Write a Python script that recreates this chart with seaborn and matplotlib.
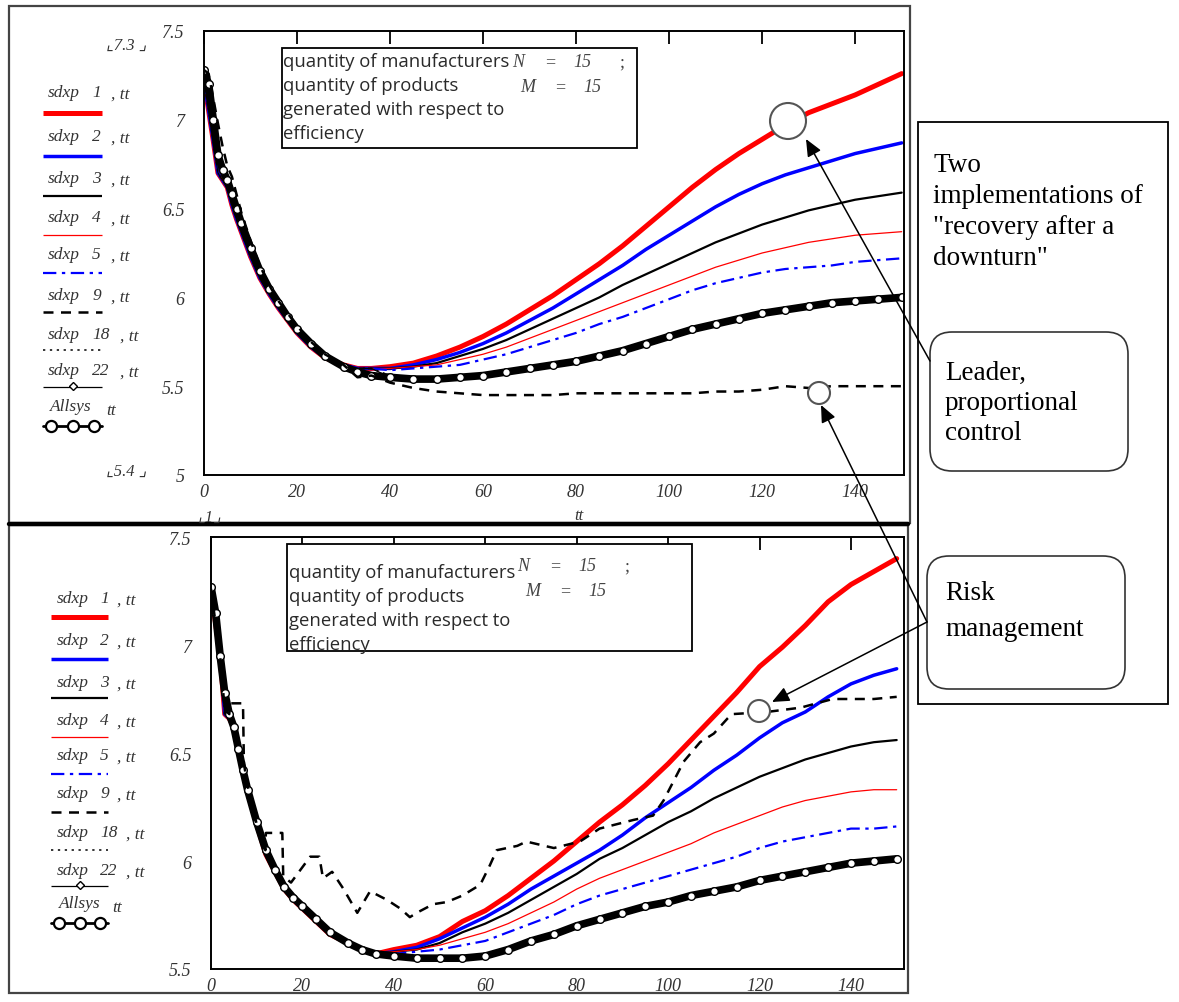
import matplotlib
matplotlib.use("Agg")
import matplotlib.pyplot as plt
import seaborn as sns
from matplotlib.patches import Rectangle, FancyBboxPatch, Circle, FancyArrowPatch

sns.set_style("white")
plt.rcParams['font.family'] = ['Liberation Serif', 'DejaVu Sans']

# ---------------- data ----------------
T_EARLY = [0, 1, 2, 3, 4, 5, 6, 7, 8, 10, 12, 14, 16, 18, 20, 23, 26, 30, 33, 36]
T_LATE = [40, 45, 50, 55, 60, 65, 70, 75, 80, 85, 90, 95, 100, 105, 110, 115,
          120, 125, 130, 135, 140, 145, 150]
T = T_EARLY + T_LATE

# --- top panel ---
top_decay = [7.22, 7.05, 6.88, 6.70, 6.66, 6.62, 6.52, 6.44, 6.37, 6.23, 6.11, 6.02,
             5.94, 5.87, 5.80, 5.72, 5.66, 5.62, 5.60, 5.60]
top_sdxp1 = [5.61, 5.63, 5.67, 5.72, 5.78, 5.85, 5.93, 6.01, 6.10, 6.19, 6.29, 6.40,
             6.51, 6.62, 6.72, 6.81, 6.89, 6.97, 7.04, 7.09, 7.14, 7.20, 7.26]
top_sdxp2 = [5.60, 5.62, 5.65, 5.69, 5.74, 5.80, 5.87, 5.94, 6.02, 6.10, 6.18, 6.27,
             6.35, 6.43, 6.51, 6.58, 6.64, 6.69, 6.73, 6.77, 6.81, 6.84, 6.87]
top_sdxp3 = [5.60, 5.61, 5.63, 5.67, 5.71, 5.76, 5.82, 5.88, 5.94, 6.00, 6.07, 6.13,
             6.19, 6.25, 6.31, 6.36, 6.41, 6.45, 6.49, 6.52, 6.55, 6.57, 6.59]
top_sdxp4 = [5.60, 5.61, 5.62, 5.65, 5.68, 5.72, 5.77, 5.82, 5.87, 5.92, 5.97, 6.02,
             6.07, 6.12, 6.17, 6.21, 6.25, 6.28, 6.31, 6.33, 6.35, 6.36, 6.37]
top_sdxp5 = [5.59, 5.60, 5.61, 5.62, 5.65, 5.68, 5.72, 5.76, 5.80, 5.85, 5.89, 5.94,
             5.99, 6.04, 6.08, 6.11, 6.14, 6.16, 6.17, 6.18, 6.20, 6.21, 6.22]
top_sdxp9 = [7.28, 7.26, 7.12, 6.98, 6.85, 6.74, 6.68, 6.58, 6.48, 6.32, 6.18, 6.07,
             5.98, 5.91, 5.84, 5.75, 5.68, 5.62, 5.55, 5.56,
             5.52, 5.49, 5.47, 5.46, 5.45, 5.45, 5.45, 5.45, 5.46, 5.46, 5.46, 5.46,
             5.46, 5.46, 5.47, 5.47, 5.48, 5.50, 5.49, 5.50, 5.50, 5.50, 5.50]
top_sdxp18 = [5.56, 5.55, 5.55, 5.56, 5.57, 5.59, 5.61, 5.63, 5.65, 5.68, 5.71, 5.75,
              5.79, 5.82, 5.85, 5.88, 5.91, 5.93, 5.95, 5.97, 5.98, 5.99, 6.00]
top_sdxp22 = [5.55, 5.53, 5.53, 5.54, 5.55, 5.57, 5.59, 5.61, 5.63, 5.66, 5.69, 5.73,
              5.77, 5.81, 5.84, 5.87, 5.90, 5.92, 5.94, 5.96, 5.97, 5.98, 5.99]
top_allsys = [7.28, 7.20, 7.00, 6.80, 6.72, 6.66, 6.58, 6.50, 6.42, 6.28, 6.15, 6.05,
              5.97, 5.89, 5.82, 5.74, 5.67, 5.61, 5.58, 5.56,
              5.55, 5.54, 5.54, 5.55, 5.56, 5.58, 5.60, 5.62, 5.64, 5.67, 5.70, 5.74,
              5.78, 5.82, 5.85, 5.88, 5.91, 5.93, 5.95, 5.97, 5.98, 5.99, 6.00]

# --- bottom panel ---
bot_decay = [7.26, 7.10, 6.95, 6.68, 6.66, 6.62, 6.52, 6.42, 6.32, 6.17, 6.03, 5.95,
             5.87, 5.82, 5.78, 5.72, 5.66, 5.62, 5.59, 5.57]
bot_sdxp1 = [5.59, 5.61, 5.65, 5.72, 5.77, 5.84, 5.92, 6.00, 6.09, 6.18, 6.26, 6.35,
             6.45, 6.56, 6.67, 6.78, 6.90, 6.99, 7.09, 7.20, 7.28, 7.34, 7.40]
bot_sdxp2 = [5.58, 5.60, 5.64, 5.69, 5.74, 5.80, 5.87, 5.93, 5.99, 6.05, 6.12, 6.20,
             6.27, 6.34, 6.42, 6.49, 6.57, 6.64, 6.69, 6.76, 6.82, 6.86, 6.89]
bot_sdxp3 = [5.58, 5.59, 5.62, 5.67, 5.71, 5.76, 5.82, 5.88, 5.94, 6.01, 6.06, 6.12,
             6.18, 6.23, 6.29, 6.34, 6.39, 6.43, 6.47, 6.50, 6.53, 6.55, 6.56]
bot_sdxp4 = [5.58, 5.59, 5.61, 5.64, 5.67, 5.71, 5.76, 5.81, 5.87, 5.92, 5.96, 6.00,
             6.04, 6.08, 6.13, 6.17, 6.21, 6.25, 6.28, 6.30, 6.32, 6.33, 6.33]
bot_sdxp5 = [5.57, 5.58, 5.59, 5.61, 5.63, 5.67, 5.71, 5.75, 5.80, 5.84, 5.87, 5.90,
             5.93, 5.96, 5.99, 6.02, 6.06, 6.09, 6.11, 6.13, 6.15, 6.15, 6.16]
bot_sdxp18 = [5.57, 5.56, 5.56, 5.56, 5.57, 5.60, 5.64, 5.67, 5.71, 5.74, 5.77, 5.80,
              5.82, 5.85, 5.87, 5.89, 5.92, 5.94, 5.96, 5.98, 5.99, 6.00, 6.01]
bot_sdxp22 = [5.56, 5.55, 5.54, 5.54, 5.55, 5.58, 5.62, 5.65, 5.69, 5.72, 5.75, 5.78,
              5.80, 5.83, 5.85, 5.87, 5.90, 5.92, 5.94, 5.96, 5.98, 5.99, 6.00]
bot_allsys = [7.27, 7.15, 6.95, 6.78, 6.68, 6.62, 6.52, 6.42, 6.33, 6.18, 6.05, 5.96,
              5.88, 5.83, 5.79, 5.73, 5.67, 5.62, 5.59, 5.57,
              5.56, 5.55, 5.55, 5.55, 5.56, 5.59, 5.63, 5.66, 5.70, 5.73, 5.76, 5.79,
              5.81, 5.84, 5.86, 5.88, 5.91, 5.93, 5.95, 5.97, 5.99, 6.00, 6.01]
T_BOT9 = [0, 1, 2, 3, 4, 4.2, 7, 7.2, 8, 10, 11.9, 12, 15.6, 15.8, 17.5, 21.7, 23.7,
          24.5, 26.5, 29, 32, 34.8, 38.5, 41.4, 43.5, 45, 48.6, 51.6, 55, 58.9, 61,
          62.5, 67, 69, 75, 80.7, 85, 92.4, 96.7, 99, 103.4, 107, 110, 113, 114,
          121.6, 129, 136, 145, 150]
bot_sdxp9 = [7.26, 7.10, 6.95, 6.70, 6.68, 6.73, 6.73, 6.45, 6.35, 6.17, 6.05, 6.13,
             6.13, 5.93, 5.90, 6.02, 6.02, 5.92, 5.95, 5.87, 5.76, 5.86, 5.82, 5.78,
             5.74, 5.76, 5.80, 5.81, 5.84, 5.89, 5.98, 6.05, 6.07, 6.09, 6.06, 6.09,
             6.15, 6.19, 6.21, 6.28, 6.46, 6.55, 6.59, 6.66, 6.68, 6.69, 6.71, 6.75,
             6.75, 6.76]

X_TICKS = [0, 20, 40, 60, 80, 100, 120, 140]
TOP_Y_TICKS = [5, 5.5, 6, 6.5, 7, 7.5]
TOP_Y_LABELS = ["5", "5.5", "6", "6.5", "7", "7.5"]
BOT_Y_TICKS = [5.5, 6, 6.5, 7, 7.5]
BOT_Y_LABELS = ["5.5", "6", "6.5", "7", "7.5"]
LEGEND_NAMES = ["1", "2", "3", "4", "5", "9", "18", "22"]

# ---------------- styles ----------------
STY = {
    "1": dict(color="#ff0000", lw=3.6),
    "2": dict(color="#0000ff", lw=2.5),
    "3": dict(color="black", lw=1.6),
    "4": dict(color="#ff0000", lw=0.9),
    "5": dict(color="#0000ff", lw=1.6, dashes=(6, 2.5, 1.5, 2.5)),
    "9": dict(color="black", lw=1.8, dashes=(4, 3)),
    "18": dict(color="black", lw=1.1, dashes=(1.5, 3)),
    "22": dict(color="black", lw=0.9),
}

W, H = 1179, 1003
fig = plt.figure(figsize=(W / 100, H / 100), dpi=100)


def rect(l, t, r, b):
    return [l / W, 1 - b / H, (r - l) / W, (b - t) / H]


def draw(ax, x, y, key, **extra):
    st = dict(STY[key])
    dashes = st.pop("dashes", None)
    sns.lineplot(x=x, y=y, ax=ax, estimator=None, sort=False, legend=False,
                 color=st["color"], linewidth=st["lw"], **extra)
    if dashes is not None:
        ax.lines[-1].set_dashes(dashes)


def panel(ax, decay, s1, s2, s3, s4, s5, s9, t9, s18, s22, alls, xmax, ymin, yt, yl):
    draw(ax, T, decay + s1, "1")
    draw(ax, T, decay + s2, "2")
    draw(ax, T, decay + s3, "3")
    draw(ax, T, decay + s4, "4")
    draw(ax, T, decay + s5, "5")
    draw(ax, T, decay + s18, "18")
    draw(ax, T, decay + s22, "22")
    sns.lineplot(x=T, y=alls, ax=ax, estimator=None, sort=False, legend=False,
                 color="black", linewidth=5.5, marker="o", markersize=5.5,
                 markerfacecolor="white", markeredgecolor="black",
                 markeredgewidth=1.0)
    draw(ax, t9, s9, "9")
    ax.set_xlim(0, xmax)
    ax.set_ylim(ymin, 7.5)
    ax.set_xticks(X_TICKS)
    ax.set_xticklabels([str(v) for v in X_TICKS])
    ax.set_yticks(yt)
    ax.set_yticklabels(yl)
    ax.set_xlabel("")
    ax.set_ylabel("")
    ax.tick_params(axis="both", direction="in", length=9, width=1.3,
                   top=True, right=False, colors="black", labelcolor="#333333",
                   labelsize=13)
    ax.tick_params(axis="x", pad=6)
    ax.tick_params(axis="y", pad=14)
    for lab in ax.get_xticklabels() + ax.get_yticklabels():
        lab.set_fontstyle("italic")
    for sp in ax.spines.values():
        sp.set_color("black")
        sp.set_linewidth(1.4)


ax1 = fig.add_axes(rect(204, 32, 904, 476))
panel(ax1, top_decay, top_sdxp1, top_sdxp2, top_sdxp3, top_sdxp4, top_sdxp5,
      top_sdxp9, T, top_sdxp18, top_sdxp22, top_allsys, 150.5, 5, TOP_Y_TICKS, TOP_Y_LABELS)

ax2 = fig.add_axes(rect(211, 538, 904, 970))
panel(ax2, bot_decay, bot_sdxp1, bot_sdxp2, bot_sdxp3, bot_sdxp4, bot_sdxp5,
      bot_sdxp9, T_BOT9, bot_sdxp18, bot_sdxp22, bot_allsys, 151.6, 5.5, BOT_Y_TICKS, BOT_Y_LABELS)

# ---------------- overlay for frames, legends, annotations ----------------
ov = fig.add_axes([0, 0, 1, 1])
ov.set_xlim(0, W)
ov.set_ylim(H, 0)
ov.axis("off")
ov.set_zorder(10)

# panel frames
ov.add_patch(Rectangle((9, 7), 901, 517, fill=False, ec="#444444", lw=1.6))
ov.add_patch(Rectangle((9, 526), 899, 468, fill=False, ec="#444444", lw=1.6))
ov.plot([9, 908], [525, 525], color="black", lw=3.2)

# mathcad range markers
ov.text(106, 50, "\u231e7.3 \u231f", fontsize=12, style="italic", color="#333333")
ov.text(106, 476, "\u231e5.4 \u231f", fontsize=12, style="italic", color="#333333")
ov.text(198, 522, "\u231e1\u231f", fontsize=12, style="italic", color="#333333")
ov.text(574, 520, "tt", fontsize=12, style="italic", color="#333333")


def legend(x_lab, x_num, x_tail, xl0, xl1, bases, liney):
    for i, name in enumerate(LEGEND_NAMES):
        b = bases[i]
        ov.text(x_lab, b, "sdxp", fontsize=12.5, style="italic", color="#333333", va="baseline")
        ov.text(x_num, b, name, fontsize=12.5, style="italic", color="#333333", va="baseline")
        xt = x_tail if len(name) == 1 else x_tail + 9
        ov.text(xt, b + 2, ", tt", fontsize=12.5, style="italic", color="#333333", va="baseline")
        st = dict(STY[name])
        dashes = st.pop("dashes", None)
        ln, = ov.plot([xl0, xl1], [liney[i], liney[i]], color=st["color"], lw=st["lw"],
                      solid_capstyle="butt")
        if dashes is not None:
            ln.set_dashes(dashes)
        if name == "22":
            ov.plot([(xl0 + xl1) / 2], [liney[i] - 1], marker="D", ms=4.5, mfc="white",
                    mec="black", mew=1.0)
    b = bases[-1]
    ov.text(x_lab + 2, b, "Allsys", fontsize=12.5, style="italic", color="#333333", va="baseline")
    ov.text(x_tail - 5, b + 4, "tt", fontsize=12.5, style="italic", color="#333333", va="baseline")
    ov.plot([xl0, xl1], [liney[-1], liney[-1]], color="black", lw=2.0)
    ov.plot([xl0 + 8, (xl0 + xl1) / 2, xl1 - 8], [liney[-1]] * 3, ls="none", marker="o",
            ms=8, mfc="white", mec="black", mew=1.6)


legend(48, 92, 111, 43, 102,
       [97, 141, 183, 222, 259, 300, 339, 375, 411],
       [114, 157, 197, 236, 274, 313, 351, 388, 427])
legend(57, 100, 117, 51, 108,
       [603, 645, 687, 725, 760, 798, 837, 875, 908],
       [618, 660, 699, 738, 775, 813, 851, 887, 924])


def info_box(x0, y0, x1, y1, tx, bases, nx, nb):
    ov.add_patch(Rectangle((x0, y0), x1 - x0, y1 - y0, fc="white", ec="black", lw=1.3))
    lines = ["quantity of manufacturers", "quantity of products",
             "generated with respect to", "efficiency"]
    for s, b in zip(lines, bases):
        ov.text(tx, b, s, fontsize=13.3, family=["Open Sans", "DejaVu Sans"],
                color="#2a2a2a", va="baseline")
    ov.text(nx, nb, "N", fontsize=13, style="italic", color="#444444", va="baseline")
    ov.text(nx + 33, nb, "=", fontsize=13, color="#444444", va="baseline")
    ov.text(nx + 61, nb, "15", fontsize=13, style="italic", color="#444444", va="baseline")
    ov.text(nx + 107, nb, ";", fontsize=13, color="#444444", va="baseline")
    ov.text(nx + 8, nb + 25, "M", fontsize=13, style="italic", color="#444444", va="baseline")
    ov.text(nx + 43, nb + 25, "=", fontsize=13, color="#444444", va="baseline")
    ov.text(nx + 71, nb + 25, "15", fontsize=13, style="italic", color="#444444", va="baseline")


info_box(282, 49, 637, 149, 283, [67, 91, 115, 139], 512, 67)
info_box(287, 545, 692, 652, 289, [578, 602, 626, 650], 517, 571)

# right-hand annotation box
ov.add_patch(Rectangle((918, 123), 250, 582, fc="white", ec="black", lw=1.3))
for s, b in zip(["Two", "implementations of", "\"recovery after a", "downturn\""],
                [172, 203, 234, 265]):
    ov.text(933, b, s, fontsize=19.5, color="black", va="baseline")
ov.add_patch(FancyBboxPatch((930, 333), 198, 139, boxstyle="round,pad=0,rounding_size=22",
                            fc="white", ec="#333333", lw=1.2))
for s, b in zip(["Leader,", "proportional", "control"], [380, 410, 440]):
    ov.text(945, b, s, fontsize=19.5, color="black", va="baseline")
ov.add_patch(FancyBboxPatch((927, 557), 198, 133, boxstyle="round,pad=0,rounding_size=22",
                            fc="white", ec="#333333", lw=1.2))
for s, b in zip(["Risk", "management"], [600, 636]):
    ov.text(945, b, s, fontsize=19.5, color="black", va="baseline")

# circles and arrows
for (cx, cy, r) in [(788, 122, 18), (819, 394, 11), (759, 712, 11)]:
    ov.add_patch(Circle((cx, cy), r, fc="white", ec="#555555", lw=1.5, zorder=5))
for (x0, y0, x1, y1) in [(930, 362, 806, 140), (927, 623, 821, 406), (927, 623, 772, 703)]:
    ov.add_patch(FancyArrowPatch((x0, y0), (x1, y1), arrowstyle="-|>,head_length=8,head_width=3.5",
                                 mutation_scale=1.3, color="black", lw=1.1, zorder=6,
                                 shrinkA=0, shrinkB=0))

fig.savefig("out.png", dpi=100)
